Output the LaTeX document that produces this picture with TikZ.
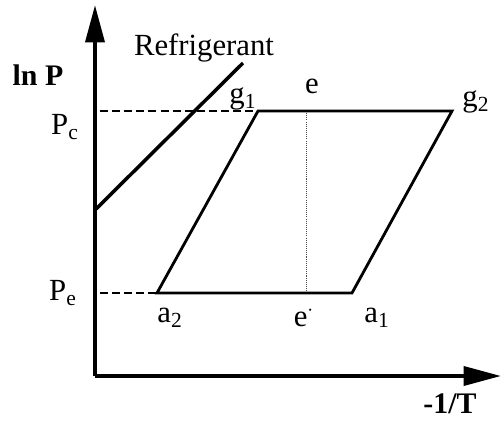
\documentclass[tikz,border=0pt]{standalone}
\usepackage{fontspec}
\setmainfont{Liberation Serif}
\usepackage{tikz}
\usetikzlibrary{arrows.meta, positioning}
\tikzset{
	axisline/.style ={line width=2.2pt, -{Triangle[length=0.75cm, width=0.38cm]}},
	refline/.style  ={line width=2pt},
	cycleline/.style={line width=1.6pt, line join=miter},
	levelline/.style={line width=0.8pt, dash pattern=on 4.5pt off 2.4pt},
	isoline/.style  ={line width=0.5pt, black!70, dash pattern=on 0.6pt off 0.6pt},
	lbl/.style      ={inner sep=0pt, font=\fontsize{17.5}{19}\selectfont},
	axlbl/.style    ={inner sep=0pt, font=\fontsize{17}{19}\selectfont\bfseries},
}
\begin{document}
\begin{tikzpicture}[x=0.02cm, y=-0.02cm]
			\useasboundingbox (0,0) rectangle (501,420);
			% ---------------- axes ----------------
			\coordinate (O) at (95,376);
			\coordinate (ytop) at (95,5);
			\coordinate (xend) at (501,376);
			\draw[axisline] (O) -- (ytop);
			\draw[axisline] (O) -- (xend);
			\node[axlbl] (lnP) at (38,75) {ln P};
			\node[axlbl] (invT) at (450,404) {-1/T};
			% ---------------- refrigerant line ----------------
			\coordinate (r0) at (95,210);
			\coordinate (r1) at (243,63);
			\draw[refline] (r0) -- (r1);
			\node[lbl] (refr) at (204,48) {Refrigerant};
			% ---------------- cycle ----------------
			\coordinate (g1) at (258,111);
			\coordinate (g2) at (452,111);
			\coordinate (a1) at (352,293);
			\coordinate (a2) at (157,293);
			\coordinate (et) at (306,111);
			\coordinate (eb) at (306,293);
			\coordinate (pc) at (100,111);
			\coordinate (pe) at (100,293);
			\draw[levelline] (pc) -- (g1);
			\draw[levelline] (pe) -- (a2);
			\draw[isoline] (et) -- (eb);
			\draw[cycleline] (g1) -- (g2) -- (a1) -- (a2) -- cycle;
			% ---------------- labels ----------------
			\node[lbl] (Pc) at (65,127) {P\textsubscript{c}};
			\node[lbl] (Pe) at (63,293) {P\textsubscript{e}};
			\node[lbl] (g1l) at (243,99) {g\textsubscript{1}};
			\node[lbl] (el) at (312,86) {e};
			\node[lbl] (g2l) at (476,102) {g\textsubscript{2}};
			\node[lbl] (a2l) at (170,318) {a\textsubscript{2}};
			\node[lbl] (ebl) at (304,316) {e$^{\cdot}$};
			\node[lbl] (a1l) at (377,318) {a\textsubscript{1}};
		\end{tikzpicture}
\end{document}
